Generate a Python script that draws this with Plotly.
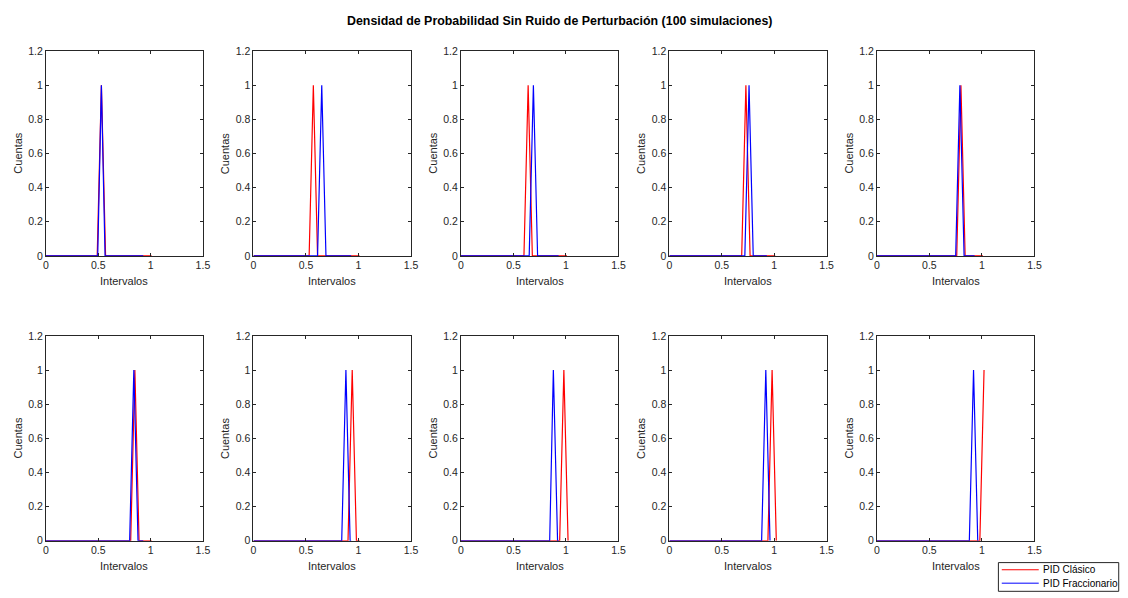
import plotly.graph_objects as go

# Histogram polylines (interval centres vs normalised counts), one pair per subplot
clasico_x = [
    [0, 0.49, 0.53, 0.57, 1.01],
    [0, 0.53, 0.57, 0.61, 1.01],
    [0, 0.60, 0.64, 0.68, 1.01],
    [0, 0.69, 0.73, 0.77, 1.01],
    [0, 0.76, 0.80, 0.84, 1.01],
    [0, 0.81, 0.85, 0.89, 1.01],
    [0, 0.90, 0.94, 0.98, 1.01],
    [0, 0.94, 0.98, 1.02],
    [0, 0.94, 0.98, 1.02],
    [0, 0.98, 1.02],
]
clasico_y = [
    [0, 0, 1, 0, 0],
    [0, 0, 1, 0, 0],
    [0, 0, 1, 0, 0],
    [0, 0, 1, 0, 0],
    [0, 0, 1, 0, 0],
    [0, 0, 1, 0, 0],
    [0, 0, 1, 0, 0],
    [0, 0, 1, 0],
    [0, 0, 1, 0],
    [0, 0, 1],
]
fracc_x = [
    [0, 0.495, 0.53, 0.565, 0.93],
    [0, 0.61, 0.65, 0.69, 0.93],
    [0, 0.65, 0.69, 0.73, 0.93],
    [0, 0.72, 0.76, 0.80, 0.93],
    [0, 0.75, 0.79, 0.83, 0.93],
    [0, 0.80, 0.84, 0.88, 0.93],
    [0, 0.84, 0.88, 0.92, 0.93],
    [0, 0.845, 0.88, 0.92, 0.93],
    [0, 0.88, 0.92, 0.96],
    [0, 0.88, 0.92, 0.96],
]
fracc_y = [
    [0, 0, 1, 0, 0],
    [0, 0, 1, 0, 0],
    [0, 0, 1, 0, 0],
    [0, 0, 1, 0, 0],
    [0, 0, 1, 0, 0],
    [0, 0, 1, 0, 0],
    [0, 0, 1, 0, 0],
    [0, 0, 1, 0, 0],
    [0, 0, 1, 0],
    [0, 0, 1, 0],
]

x_ticks = [0, 0.5, 1, 1.5]
x_ticklabels = ["0", "0.5", "1", "1.5"]
y_ticks = [0, 0.2, 0.4, 0.6, 0.8, 1, 1.2]
y_ticklabels = ["0", "0.2", "0.4", "0.6", "0.8", "1", "1.2"]

series_names = ["PID Clásico", "PID Fraccionario"]
series_colors = ["#ff0000", "#0000ff"]

W, H = 1128, 598
FONT = "Liberation Sans, Arial, Helvetica, sans-serif"
AX_COLOR = "#262626"

# Pixel boxes of the 2x5 grid of axes
col_px = [(43.3, 201.7), (252.7, 411.7), (462.0, 621.0), (672.3, 831.0), (881.7, 1040.7)]
row_px = [(46.0, 255.0), (336.7, 545.7)]


def px_x(v):
    return v / W


def px_y(v):
    return 1 - v / H


fig = go.Figure()
layout = {}
annotations = []

for i in range(10):
    r, c = divmod(i, 5)
    n = i + 1
    xa = "x" if n == 1 else f"x{n}"
    ya = "y" if n == 1 else f"y{n}"

    fig.add_trace(go.Scatter(
        x=clasico_x[i], y=clasico_y[i], mode="lines", name=series_names[0],
        line=dict(color=series_colors[0], width=1.2), xaxis=xa, yaxis=ya,
        showlegend=False, hoverinfo="x+y"))
    fig.add_trace(go.Scatter(
        x=fracc_x[i], y=fracc_y[i], mode="lines", name=series_names[1],
        line=dict(color=series_colors[1], width=1.2), xaxis=xa, yaxis=ya,
        showlegend=False, hoverinfo="x+y"))

    x0, x1 = col_px[c]
    y0, y1 = row_px[r]
    common = dict(
        showline=True, linecolor=AX_COLOR, linewidth=1, mirror="ticks",
        ticks="inside", ticklen=3, tickwidth=1, tickcolor=AX_COLOR,
        showgrid=False, zeroline=False, fixedrange=True,
        tickfont=dict(family=FONT, size=10.5, color=AX_COLOR),
    )
    layout["xaxis" if n == 1 else f"xaxis{n}"] = dict(
        common, domain=[px_x(x0), px_x(x1)], range=[0, 1.5],
        tickvals=x_ticks, ticktext=x_ticklabels, anchor=ya)
    layout["yaxis" if n == 1 else f"yaxis{n}"] = dict(
        common, domain=[px_y(y1), px_y(y0)], range=[0, 1.2],
        tickvals=y_ticks, ticktext=y_ticklabels, anchor=xa)

    # axis titles
    annotations.append(dict(
        text="Intervalos", xref="paper", yref="paper",
        x=px_x((x0 + x1) / 2), y=px_y(y1 + 26), xanchor="center", yanchor="middle",
        showarrow=False, font=dict(family=FONT, size=11, color=AX_COLOR)))
    annotations.append(dict(
        text="Cuentas", xref="paper", yref="paper", textangle=-90,
        x=px_x(x0 - 28), y=px_y((y0 + y1) / 2), xanchor="center", yanchor="middle",
        showarrow=False, font=dict(family=FONT, size=11, color=AX_COLOR)))

# figure title
annotations.append(dict(
    text="<b>Densidad de Probabilidad Sin Ruido de Perturbación (100 simulaciones)</b>",
    xref="paper", yref="paper", x=px_x(562), y=px_y(15),
    xanchor="center", yanchor="middle", showarrow=False,
    font=dict(family=FONT, size=12.4, color="#000000")))

# legend box in the lower right corner
leg_l, leg_t, leg_r, leg_b = 1004.3, 568.0, 1125.7, 597.3
shapes = [dict(type="rect", xref="paper", yref="paper",
               x0=px_x(leg_l), x1=px_x(leg_r), y0=px_y(leg_b), y1=px_y(leg_t),
               line=dict(color=AX_COLOR, width=1), fillcolor="white")]
for k, ly in enumerate([575.3, 589.0]):
    shapes.append(dict(type="line", xref="paper", yref="paper",
                       x0=px_x(1007.7), x1=px_x(1045.0), y0=px_y(ly), y1=px_y(ly),
                       line=dict(color=series_colors[k], width=1)))
    annotations.append(dict(
        text=series_names[k], xref="paper", yref="paper",
        x=px_x(1047.3), y=px_y(ly), xanchor="left", yanchor="middle",
        showarrow=False, font=dict(family=FONT, size=10, color="#000000")))

fig.update_layout(
    **layout,
    width=W, height=H,
    margin=dict(l=0, r=0, t=0, b=0),
    paper_bgcolor="white", plot_bgcolor="white",
    showlegend=False,
    annotations=annotations,
    shapes=shapes,
)

fig.write_html("out.html", config={"displayModeBar": False})
